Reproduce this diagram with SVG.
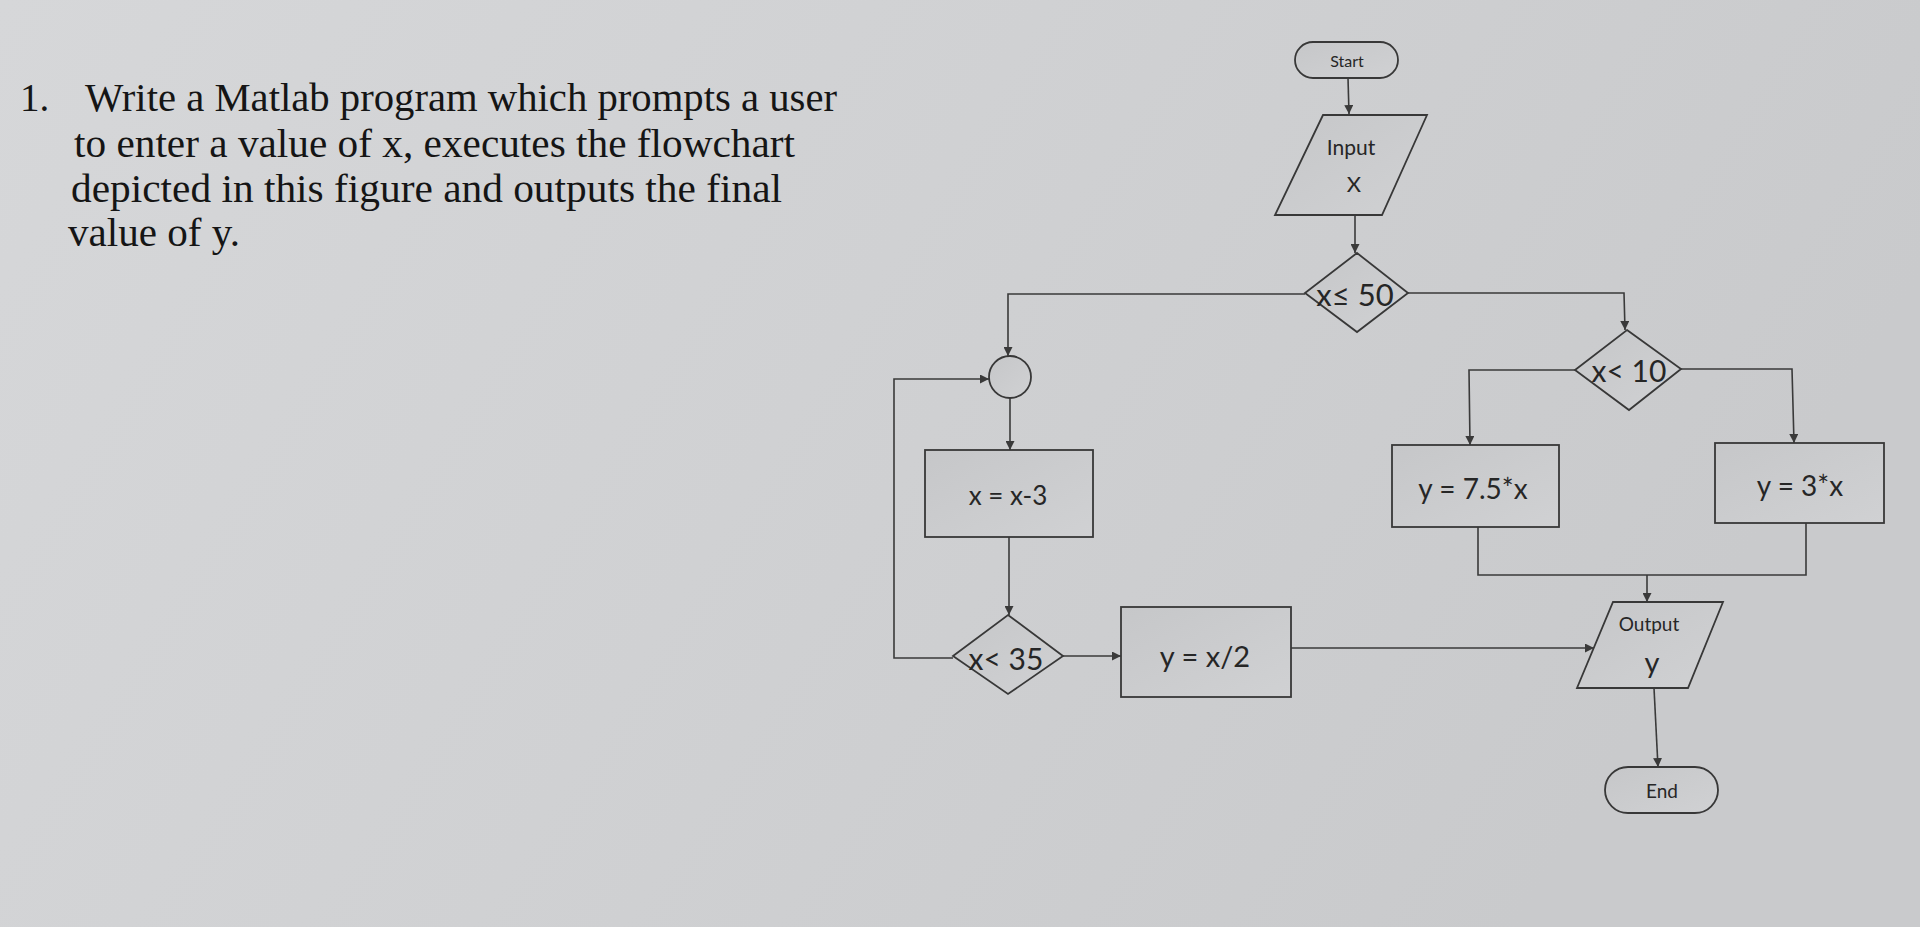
<svg xmlns="http://www.w3.org/2000/svg" width="1920" height="927" viewBox="0 0 1920 927">
<defs>
<linearGradient id="bg" x1="0" y1="0" x2="1" y2="0.3">
<stop offset="0" stop-color="#d6d7d9"/>
<stop offset="0.5" stop-color="#d0d1d3"/>
<stop offset="1" stop-color="#c9cacc"/>
</linearGradient>
<linearGradient id="nf" x1="0" y1="0" x2="1" y2="1">
<stop offset="0" stop-color="#c6c7c9"/>
<stop offset="1" stop-color="#d0d1d3"/>
</linearGradient>
<marker id="arr" viewBox="0 0 10 10" refX="10" refY="5" markerWidth="9" markerHeight="9" markerUnits="userSpaceOnUse" orient="auto">
<path d="M0,0 L10,5 L0,10 Z" fill="#3a3a3a"/>
</marker>
<style>
.node{fill:url(#nf);stroke:#383838;stroke-width:1.8}
.con{fill:none;stroke:#3a3a3a;stroke-width:1.6}
.t{font-family:Lato,"Open Sans",sans-serif;fill:#262626;text-anchor:middle;dominant-baseline:central}
.q{font-family:"Liberation Serif","Times New Roman",serif;fill:#151515;font-size:39px}
</style>
</defs>
<rect x="0" y="0" width="1920" height="927" fill="url(#bg)"/>

<g id="question">
<text class="q" x="20" y="111">1.</text>
<text class="q" x="85" y="111" textLength="752" lengthAdjust="spacingAndGlyphs">Write a Matlab program which prompts a user</text>
<text class="q" x="74" y="157" textLength="721" lengthAdjust="spacingAndGlyphs">to enter a value of x, executes the flowchart</text>
<text class="q" x="71" y="202" textLength="711" lengthAdjust="spacingAndGlyphs">depicted in this figure and outputs the final</text>
<text class="q" x="68" y="246" textLength="172" lengthAdjust="spacingAndGlyphs">value of y.</text>
</g>

<g id="connectors">
<path class="con" marker-end="url(#arr)" d="M1348,78 L1349,114"/>
<path class="con" marker-end="url(#arr)" d="M1355,215 L1355,253"/>
<path class="con" marker-end="url(#arr)" d="M1408,293 L1624,293 L1625,330"/>
<path class="con" marker-end="url(#arr)" d="M1305,294 L1008,294 L1008,356"/>
<path class="con" marker-end="url(#arr)" d="M1575,370 L1469,370 L1470,445"/>
<path class="con" marker-end="url(#arr)" d="M1681,369 L1792,369 L1794,443"/>
<path class="con" d="M1478,527 L1478,575 L1806,575 L1806,523"/>
<path class="con" marker-end="url(#arr)" d="M1647,575 L1647,602"/>
<path class="con" marker-end="url(#arr)" d="M1654,688 L1658,767"/>
<path class="con" marker-end="url(#arr)" d="M1010,398 L1010,450"/>
<path class="con" marker-end="url(#arr)" d="M1009,537 L1009,615"/>
<path class="con" marker-end="url(#arr)" d="M1063,656 L1121,656"/>
<path class="con" marker-end="url(#arr)" d="M953,658 L894,658 L894,379 L989,379"/>
<path class="con" marker-end="url(#arr)" d="M1291,648 L1594,648"/>
</g>

<g id="start">
<rect class="node" x="1295" y="42" width="103" height="36" rx="18"/>
<text class="t" x="1347" y="60" font-size="16">Start</text>
</g>

<g id="input">
<polygon class="node" points="1323,115 1427,115 1382,215 1275,215"/>
<text class="t" x="1351" y="146" font-size="21">Input</text>
<text class="t" x="1354" y="183" font-size="22">X</text>
</g>

<g id="dec50">
<polygon class="node" points="1357,253 1408,293 1357,332 1305,293"/>
<text class="t" x="1355" y="294" font-size="31">x≤ 50</text>
</g>

<g id="dec10">
<polygon class="node" points="1627,330 1681,369 1629,410 1575,370"/>
<text class="t" x="1629" y="370" font-size="30">x&lt; 10</text>
</g>

<g id="y75">
<rect class="node" x="1392" y="445" width="167" height="82"/>
<text class="t" x="1473" y="488" font-size="28">y = 7.5*x</text>
</g>

<g id="y3">
<rect class="node" x="1715" y="443" width="169" height="80"/>
<text class="t" x="1800" y="485" font-size="28">y = 3*x</text>
</g>

<g id="output">
<polygon class="node" points="1613,602 1723,602 1688,688 1577,688"/>
<text class="t" x="1649" y="623" font-size="19">Output</text>
<text class="t" x="1652" y="661" font-size="29">y</text>
</g>

<g id="end">
<rect class="node" x="1605" y="767" width="113" height="46" rx="23"/>
<text class="t" x="1662" y="790" font-size="19">End</text>
</g>

<g id="connector-circle">
<circle class="node" cx="1010" cy="377" r="21"/>
</g>

<g id="xminus3">
<rect class="node" x="925" y="450" width="168" height="87"/>
<text class="t" x="1008" y="495" font-size="26">x = x-3</text>
</g>

<g id="dec35">
<polygon class="node" points="1008,615 1063,656 1008,694 953,656"/>
<text class="t" x="1006" y="658" font-size="30">x&lt; 35</text>
</g>

<g id="yhalf">
<rect class="node" x="1121" y="607" width="170" height="90"/>
<text class="t" x="1205" y="655" font-size="29">y = x/2</text>
</g>
</svg>
